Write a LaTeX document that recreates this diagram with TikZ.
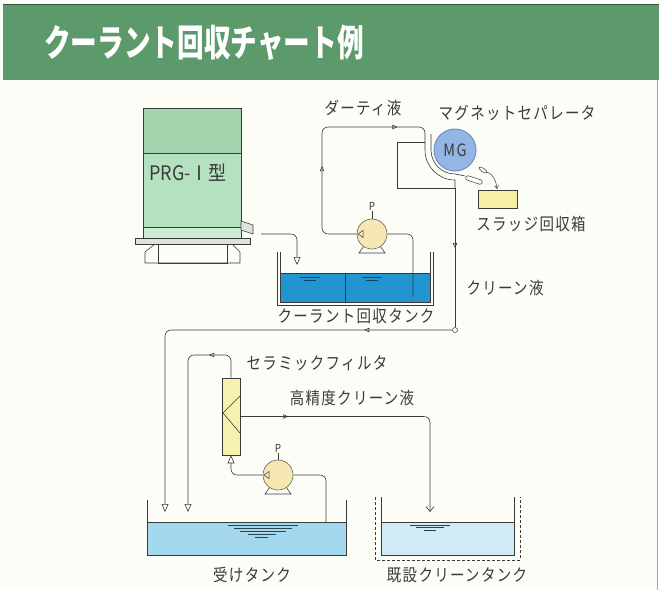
\documentclass[tikz,border=0pt]{standalone}
\usepackage{fontspec}
\setmainfont{Noto Sans CJK JP}
\newfontfamily\labfont[LetterSpace=8,FakeStretch=0.85]{Noto Sans CJK JP}
\newfontfamily\titlefont[FakeStretch=0.72]{Noto Sans CJK JP}
\newfontfamily\unitfont[FakeStretch=0.9]{Noto Sans CJK JP}
\usetikzlibrary{arrows.meta,decorations.markings}

\definecolor{paper}{HTML}{FDFDF8}
\definecolor{band}{HTML}{5C9A6C}
\definecolor{ink}{HTML}{3A3A3A}
\definecolor{machinetop}{HTML}{A2D4AE}
\definecolor{machinemid}{HTML}{B4E2C0}
\definecolor{machinelow}{HTML}{CBECD4}
\definecolor{plate}{HTML}{DCE3DC}
\definecolor{pumpfill}{HTML}{F7E7B2}
\definecolor{mgfill}{HTML}{94B6E4}
\definecolor{mgedge}{HTML}{6F90C6}
\definecolor{sludgefill}{HTML}{F6F0A6}
\definecolor{filterfill}{HTML}{F7F1B0}
\definecolor{coolant}{HTML}{2394D2}
\definecolor{recvwater}{HTML}{A3D8EF}
\definecolor{cleanwater}{HTML}{D0EBF6}

\begin{document}
\begin{tikzpicture}[x=1pt,y=-1pt,line width=0.6pt,color=ink,
  pipe/.style={draw=ink,line width=0.6pt,rounded corners=6pt},
  lab/.style={font=\labfont\fontsize{17pt}{19pt}\selectfont,text=ink,inner sep=0pt},
  flowmark/.style={postaction={decorate,decoration={markings,
      mark=at position #1 with {\arrow{Triangle[open,length=5pt,width=4.5pt]}}}}},
  tankin/.style={-{Triangle[open,length=8pt,width=7pt]}},
  pumpbody/.style={circle,draw=ink!80,fill=pumpfill,minimum size=30pt,inner sep=0pt},
  plabel/.style={font=\unitfont\fontsize{11pt}{12pt}\selectfont,text=ink,inner sep=1pt},
  ripple/.style={line width=0.4pt}
]
\useasboundingbox (0,0) rectangle (659,590);
\fill[paper] (0,0) rectangle (659,590);

% ---- title band ----
\fill[band] (3,4) rectangle (659,80);
\draw[band!55!black,line width=0.8pt] (3,4) -- (659,4);
\node[anchor=west,text=white,font=\titlefont\bfseries\fontsize{37pt}{40pt}\selectfont,inner sep=0pt]
  (title) at (44,43) {クーラント回収チャート例};
% frame edge on the right
\draw[gray!70,line width=0.8pt] (657.5,80) -- (657.5,590);

% ---- PRG unit ----
\fill[machinetop] (143,108) rectangle (241,153);
\fill[machinemid] (143,153) rectangle (241,227);
\fill[machinelow] (143,227) rectangle (241,238);
\draw (143,108) rectangle (241,238);
\draw (143,153) -- (241,153);
\draw (143,227) -- (241,227);
\draw[fill=plate] (241,221) -- (253,225) -- (253,234) -- (241,230) -- cycle;
\draw[fill=plate] (135,238) rectangle (250,244);
\draw (155,244) -- (145,252) -- (145,263) -- (240,263) -- (240,252) -- (232,244);
\draw (158,244) rectangle (227,263);
\node[anchor=west,font=\unitfont\fontsize{20pt}{22pt}\selectfont,text=ink,inner sep=0pt]
  (prg) at (149,173) {PRG-Ⅰ型};

% ---- coolant collection tank ----
\fill[coolant] (280,273) rectangle (430,302);
\draw (277,252) -- (277,305) -- (433,305) -- (433,252);
\draw (280,252) -- (280,302) -- (430,302) -- (430,252);
\draw[coolant!45!black] (280,273) -- (430,273);
\draw[coolant!45!black] (345,273) -- (345,302);
\draw[ripple,coolant!45!black] (300,277) -- (320,277) (304,280) -- (316,280)
  (362,277) -- (382,277) (366,280) -- (378,280);
\node[lab] (tankA) at (356,316) {クーラント回収タンク};

% ---- pump A ----
\draw (364,246) -- (359,253) -- (385,253) -- (380,246);
\node[pumpbody] (pA) at (372,234) {};
\draw[line width=0.5pt] (358,234) -- (363,230.5) -- (363,237.5) -- cycle;
\node[plabel] (pAlabel) at (372,206) {P};
\draw[line width=0.4pt] (pAlabel.south) -- (pA.north);

% PRG chute to collection tank
\coordinate (chute) at (261,234);
\coordinate (tankAdrop) at (297,265);
\draw[pipe,tankin] (chute) -| (tankAdrop);

% suction of pump A
\coordinate (suctA) at (413,297);
\draw[pipe] (pA.east) -| (suctA);

% dirty liquid line to the separator
\coordinate (housingtop) at (425,142);
\draw[pipe,flowmark=100pt,flowmark=212pt]
  (pA.west) -- (322,234) -- (322,127) -- (425,127) -- (housingtop);
\node[lab] (dirty) at (363,108) {ダーティ液};

% ---- magnetic separator ----
\draw (housingtop) -- (425,150) .. controls (425,166.6) and (438.4,180) .. (455,180) -- (455,188);
\draw (431,134) -- (431,150) .. controls (431,163.3) and (441.7,174) .. (455,174) -- (465,176);
\draw (housingtop) -- (397,142) -- (397,188) -- (455,188);
\node[circle,draw=mgedge,line width=1pt,fill=mgfill,minimum size=42pt,inner sep=0pt,
  font=\labfont\fontsize{17pt}{18pt}\selectfont,text=ink] (mg) at (455,150) {MG};
\node[draw=ink,rounded corners=1.5pt,minimum width=17pt,minimum height=4.5pt,inner sep=0pt,
  rotate=-18,fill=paper,line width=0.5pt] (scraper) at (474,180) {};
\draw[line width=0.5pt,rotate around={-35:(483,170)}] (483,170) ellipse[x radius=4.5,y radius=1.8];
\draw[line width=0.5pt,-{Straight Barb[length=3pt,width=4pt]}]
  (487,172) .. controls (493,174) and (496,180) .. (497,189);
\node[lab] (mglabel) at (517,113) {マグネットセパレータ};

% sludge box
\node[draw=ink,fill=sludgefill,minimum width=39pt,minimum height=18pt,inner sep=0pt]
  (sludge) at (497.5,199) {};
\node[lab] (sludgelabel) at (531,224) {スラッジ回収箱};

% clean liquid line to receiving tank
\coordinate (mgout) at (455,188);
\node[circle,draw=ink,fill=paper,inner sep=0pt,minimum size=5pt,line width=0.5pt] (junc) at (455,330) {};
\draw[pipe,flowmark=60pt] (mgout) -- (junc.north);
\node[lab] (cleanlabel) at (505,288) {クリーン液};
\coordinate (recvA) at (165,512);
\draw[pipe,flowmark=88pt,tankin] (junc.west) -- (165,330) -- (recvA);

% ---- ceramic filter ----
\node[draw=ink,fill=filterfill,minimum width=18pt,minimum height=77pt,inner sep=0pt]
  (filt) at (231,416.5) {};
\draw (240,396) -- (223,413) -- (240,433);
\node[lab] (filtlabel) at (317,363) {セラミックフィルタ};
\coordinate (recvB) at (188,512);
\draw[pipe,flowmark=42pt,tankin] (filt.north) -- (231,355) -- (188,355) -- (recvB);
\coordinate (cleanin) at (430,512);
\draw[pipe,flowmark=48pt,-{Straight Barb[length=5pt,width=8pt]}]
  (filt.east) -- (430,416.5) -- (cleanin);
\node[lab] (hplabel) at (352,398) {高精度クリーン液};

% ---- pump B ----
\draw (270,487) -- (265,494) -- (291,494) -- (286,487);
\node[pumpbody] (pB) at (278,475) {};
\draw[line width=0.5pt] (264,475) -- (269,471.5) -- (269,478.5) -- cycle;
\node[plabel] (pBlabel) at (278,448) {P};
\draw[line width=0.4pt] (pBlabel.south) -- (pB.north);
\draw[pipe,tankin] (pB.west) -| (filt.south);
\coordinate (suctB) at (326,547);
\draw[pipe] (pB.east) -| (suctB);

% ---- receiving tank ----
\fill[recvwater] (147,522) rectangle (346,555);
\draw (147,500) -- (147,555) -- (346,555) -- (346,500);
\draw (147,522) -- (346,522);
\draw[ripple,recvwater!30!black] (228,525) -- (298,525) (234,528) -- (292,528)
  (240,531) -- (286,531) (248,534) -- (276,534) (255,537) -- (268,537);
\node[lab] (recvlabel) at (252,575) {受けタンク};

% ---- existing clean tank ----
\fill[cleanwater] (381,522) rectangle (514,555);
\draw (381,497) -- (381,555) -- (514,555) -- (514,497);
\draw[dash pattern=on 3pt off 2pt] (375,497) -- (375,560) -- (520,560) -- (520,497);
\draw (381,522) -- (514,522);
\draw[ripple,cleanwater!25!black] (410,525) -- (450,525) (416,527.5) -- (444,527.5)
  (424,530) -- (436,530);
\node[lab] (cleantanklabel) at (457,575) {既設クリーンタンク};
\end{tikzpicture}
\end{document}
